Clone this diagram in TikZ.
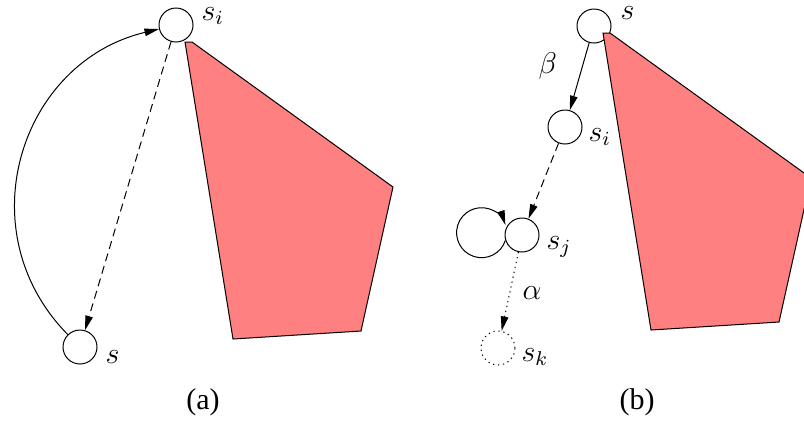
\documentclass[tikz,border=0pt]{standalone}
\usepackage{fontspec}
\setmainfont{Liberation Serif}
\usetikzlibrary{arrows.meta}
\colorlet{obstacle}{red!50}

\begin{document}
\begin{tikzpicture}[x=0.4pt, y=-0.4pt,
    state/.style={circle, draw, inner sep=0pt, minimum size=13.6pt},
    lbl/.style={anchor=base west, inner sep=0pt, font=\large},
    tip/.style={-{Triangle[length=5.8pt, width=3pt]}},
    dashline/.style={dash pattern=on 3.2pt off 2pt},
    dotline/.style={dash pattern=on 0.5pt off 1.5pt}]
  \clip (0,0) rectangle (804,422);
  % (a): states s and s_i
  \node[state] (si) at (176,25) {};
  \node[state] (s) at (80,347) {};
  \node[lbl] (silab) at (201,20) {$s_i$};
  \node[lbl] (slab) at (105,363) {$s$};
  \draw[tip] (s) .. controls (-34,231) and (20,62) .. (si);
  \draw[tip, dashline] (si) -- (s);
  % (a): obstacle
  \draw[fill=obstacle] (185,42) -- (192,42) -- (393,187) -- (361,331) -- (233,339) -- cycle;
  % (b): states along the path
  \node[state] (sb) at (594,26) {};
  \node[state] (sib) at (565,127) {};
  \node[state] (sj) at (522,235) {};
  \node[state, dotline] (sk) at (498,348) {};
  \node[lbl] (sblab) at (620,19) {$s$};
  \node[lbl] (siblab) at (588,141) {$s_i$};
  \node[lbl] (sjlab) at (546,249) {$s_j$};
  \node[lbl] (sklab) at (521,361) {$s_k$};
  \draw[tip] (sb) -- (sib);
  \node[lbl] (beta) at (538,73) {$\beta$};
  \draw[tip, dashline] (sib) -- (sj);
  \draw[tip] (sj.198) arc[start angle=18, end angle=342, radius=25];
  \draw[tip, dotline] (sj) -- (sk);
  \node[lbl] (alpha) at (522,299) {$\alpha$};
  % (b): obstacle, same shape shifted
  \draw[fill=obstacle, shift={(418,-9)}] (185,42) -- (192,42) -- (393,187) -- (361,331) -- (233,339) -- cycle;
  % Captions
  \node[font=\large, anchor=base, inner sep=0pt] (capa) at (203,409) {(a)};
  \node[font=\large, anchor=base, inner sep=0pt] (capb) at (637,409) {(b)};
\end{tikzpicture}
\end{document}
